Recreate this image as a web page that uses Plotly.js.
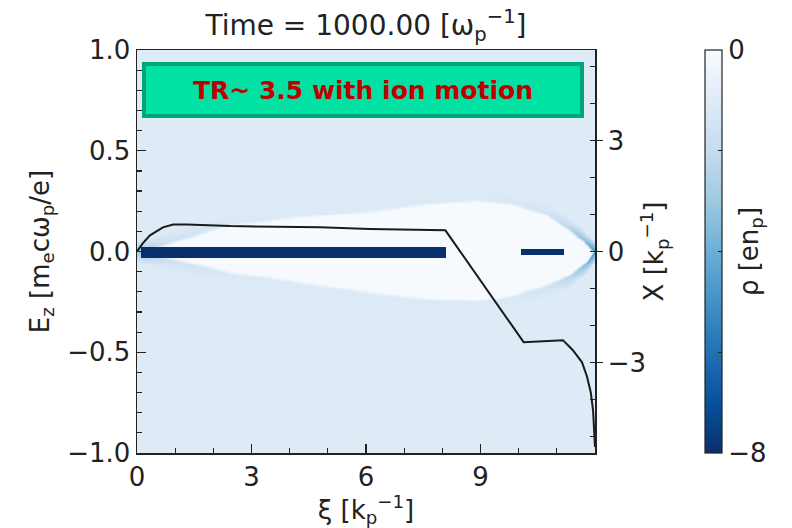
<!DOCTYPE html>
<html>
<head>
<meta charset="utf-8">
<script src="https://cdn.plot.ly/plotly-3.0.1.min.js"></script>
<style>
  html, body { margin: 0; padding: 0; background: #fff; }
  #chart { width: 792px; height: 528px; }
</style>
</head>
<body>
<div id="chart"></div>
<script>
// On-axis longitudinal field E_z along the co-moving coordinate xi
const ezXi  = [0, 0.15, 0.34, 0.68, 0.95, 1.3, 2.44, 4.8, 6.1, 8.08, 10.13, 10.6, 11.16, 11.42, 11.66, 11.79, 11.89, 11.95, 11.97, 12.0];
const ezVal = [0, 0.04, 0.08, 0.12, 0.134, 0.134, 0.126, 0.12, 0.112, 0.105, -0.45, -0.447, -0.44, -0.49, -0.55, -0.62, -0.70, -0.79, -0.90, -0.97];

// Blow-out bubble: upper/lower edge of the electron-free region, and sheath density
const bubbleXi    = [0, 0.7, 2.4, 4.2, 6.0, 7.6, 8.9, 9.8, 10.7, 11.3, 11.8, 12.0];
const bubbleUpper = [0.0, 0.22, 0.76, 0.98, 1.12, 1.33, 1.44, 1.33, 1.06, 0.65, 0.22, 0.0];
const bubbleLower = [0.0, -0.19, -0.6, -0.87, -1.14, -1.33, -1.38, -1.25, -0.97, -0.7, -0.3, 0.0];
const sheathRho   = [-3.2, -1.8, -1.15, -1.1, -1.1, -1.1, -1.1, -1.2, -1.5, -2.3, -3.8, -5.0];

// Drive beam and witness beam (start, end, transverse half-width)
const beamStart = [0.08, 10.05];
const beamEnd   = [8.08, 11.15];
const beamHalf  = [0.15, 0.09];

// Background plasma density, bubble interior density, beam density
const rhoPlasma = -1.0;
const rhoBubble = -0.05;
const rhoBeam   = -8.0;

// Colour bar ticks
const cbTickVals = [-8, -6, -4, -2, 0];
const cbTickText = ['\u22128', '', '', '', '0'];

// Sequential blue colour map: dark (-8) to white (0)
const bluesScale = [
  [0.0, '#08306b'], [0.125, '#08519c'], [0.25, '#2171b5'], [0.375, '#4292c6'],
  [0.5, '#6baed6'], [0.625, '#9ecae1'], [0.75, '#c6dbef'], [0.875, '#deebf7'], [1.0, '#f7fbff']
];

function lerp(xs, ys, x) {
  if (x <= xs[0]) return ys[0];
  for (let i = 1; i < xs.length; i++) {
    if (x <= xs[i]) {
      const t = (x - xs[i - 1]) / (xs[i] - xs[i - 1]);
      return ys[i - 1] + t * (ys[i] - ys[i - 1]);
    }
  }
  return ys[ys.length - 1];
}

// Density table for the heatmap (soft edges across the sheath)
const gridXi = [], gridX = [];
for (let i = 0; i <= 480; i++) gridXi.push(i * 0.025);
for (let j = 0; j <= 436; j++) gridX.push(-5.45 + j * 0.025);
const sheathOut = 0.3;   // sheath thickness outside the bubble
const sheathIn  = 0.1;   // transition thickness inside the bubble
const rho = gridX.map(X => gridXi.map(xi => {
  for (let b = 0; b < beamStart.length; b++) {
    if (xi >= beamStart[b] && xi <= beamEnd[b] && Math.abs(X) <= beamHalf[b]) return rhoBeam;
  }
  const up = lerp(bubbleXi, bubbleUpper, xi);
  const lo = lerp(bubbleXi, bubbleLower, xi);
  const edge = lerp(bubbleXi, sheathRho, xi);
  if (X <= up && X >= lo) {
    const dIn = Math.min(up - X, X - lo);
    return rhoBubble + (edge - rhoBubble) * Math.max(0, 1 - dIn / sheathIn);
  }
  const d = X > up ? X - up : lo - X;
  return rhoPlasma + (edge - rhoPlasma) * Math.max(0, 1 - d / sheathOut);
}));

const density = {
  type: 'heatmap',
  x: gridXi, y: gridX, z: rho,
  xaxis: 'x', yaxis: 'y',
  zmin: -8, zmax: 0,
  zsmooth: 'best',
  colorscale: bluesScale,
  colorbar: {
    x: (705 - 137) / 458, xanchor: 'left', xpad: 0,
    y: 0.5, yanchor: 'middle', ypad: 0,
    len: 1, lenmode: 'fraction', thickness: 17,
    outlinewidth: 1.2, outlinecolor: '#222',
    tickmode: 'array', tickvals: cbTickVals, ticktext: cbTickText,
    ticks: 'inside', ticklen: 4, tickcolor: '#222',
    tickfont: { family: 'DejaVu Sans', size: 26, color: '#222' },
    title: { text: '\u03c1 [en<sub>p</sub>]', side: 'right',
             font: { family: 'DejaVu Sans', size: 26, color: '#222' } }
  },
  hoverinfo: 'skip'
};

const field = {
  type: 'scatter', mode: 'lines',
  x: ezXi, y: ezVal,
  xaxis: 'x', yaxis: 'y2',
  line: { color: '#1a1a1a', width: 2 },
  showlegend: false, hoverinfo: 'skip'
};

const tickFont = { family: 'DejaVu Sans', size: 26, color: '#222' };

const layout = {
  width: 792, height: 528,
  margin: { l: 137, r: 197, t: 50, b: 75 },
  paper_bgcolor: '#ffffff', plot_bgcolor: '#ffffff',
  font: { family: 'DejaVu Sans', size: 26, color: '#222' },
  showlegend: false,
  title: {
    text: 'Time = 1000.00 [\u03c9<sub>p</sub><sup>\u22121</sup>]',
    x: 0.5, xref: 'paper', y: 0.952, yref: 'container', yanchor: 'middle',
    font: { family: 'DejaVu Sans', size: 28, color: '#222' }
  },
  xaxis: {
    range: [0, 12], tickmode: 'array', tickvals: [0, 3, 6, 9],
    ticks: 'inside', ticklen: 9, tickwidth: 1.3, tickcolor: '#222',
    minor: { dtick: 1, tick0: 0, ticks: 'inside', ticklen: 5, tickwidth: 1.2, tickcolor: '#222' },
    showline: true, linecolor: '#222', linewidth: 1.5, mirror: true,
    showgrid: false, zeroline: false, tickfont: tickFont,
    title: { text: '\u03be [k<sub>p</sub><sup>\u22121</sup>]', font: tickFont, standoff: 2 }
  },
  yaxis: {
    range: [-5.45, 5.45], side: 'right', tickmode: 'linear', tick0: 0, dtick: 3,
    ticks: 'outside', ticklen: 6, tickwidth: 1.3, tickcolor: '#222',
    minor: { dtick: 1, tick0: 0, ticks: 'inside', ticklen: 5, tickwidth: 1.2, tickcolor: '#222' },
    showline: true, linecolor: '#222', linewidth: 1.5,
    showgrid: false, zeroline: false, tickfont: tickFont,
    title: { text: 'X [k<sub>p</sub><sup>\u22121</sup>]', font: tickFont, standoff: 0 }
  },
  yaxis2: {
    overlaying: 'y', side: 'left', range: [-1, 1],
    tickmode: 'linear', tick0: 0, dtick: 0.5, tickformat: '.1f',
    ticks: 'inside', ticklen: 9, tickwidth: 1.3, tickcolor: '#222',
    minor: { dtick: 0.1, tick0: 0, ticks: 'inside', ticklen: 5, tickwidth: 1.2, tickcolor: '#222' },
    showline: true, linecolor: '#222', linewidth: 1.5,
    showgrid: false, zeroline: false, tickfont: tickFont,
    title: { text: 'E<sub>z</sub> [m<sub>e</sub>c\u03c9<sub>p</sub>/e]', font: tickFont, standoff: 10 }
  },
  shapes: [{
    type: 'rect', xref: 'paper', yref: 'paper',
    x0: (144 - 137) / 458, x1: (582 - 137) / 458,
    y0: (453 - 116) / 403, y1: (453 - 64) / 403,
    fillcolor: '#00e2a4', line: { color: '#00a67a', width: 4 }, layer: 'above'
  }],
  annotations: [{
    xref: 'paper', yref: 'paper',
    x: (363 - 137) / 458, y: (453 - 90) / 403,
    xanchor: 'center', yanchor: 'middle', showarrow: false,
    text: '<b>TR~ 3.5 with ion motion</b>',
    font: { family: 'DejaVu Sans', size: 25, color: '#c00000' }
  }]
};

Plotly.newPlot('chart', [density, field], layout, { displayModeBar: false, staticPlot: true });
</script>
</body>
</html>
